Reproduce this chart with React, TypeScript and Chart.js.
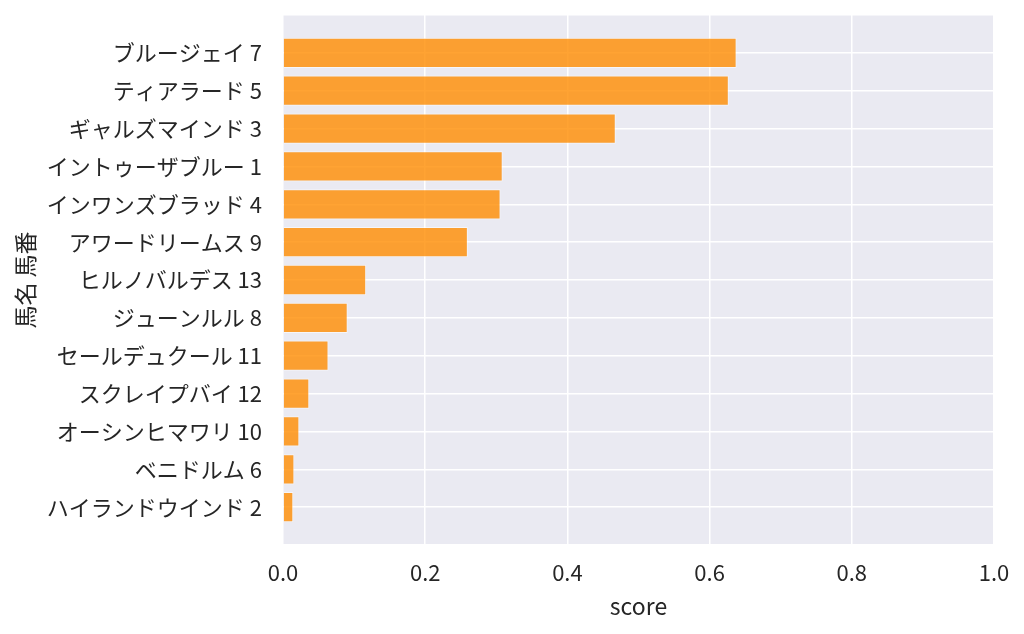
import { useRef, useEffect } from "react";
import Chart from "chart.js/auto";

const horses = [
  "ブルージェイ 7",
  "ティアラード 5",
  "ギャルズマインド 3",
  "イントゥーザブルー 1",
  "インワンズブラッド 4",
  "アワードリームス 9",
  "ヒルノバルデス 13",
  "ジューンルル 8",
  "セールデュクール 11",
  "スクレイプバイ 12",
  "オーシンヒマワリ 10",
  "ベニドルム 6",
  "ハイランドウインド 2",
];

const scores = [
  0.638, 0.627, 0.468, 0.309, 0.306, 0.26, 0.117, 0.091, 0.064, 0.037, 0.023,
  0.016, 0.0145,
];

const xTicks = [0, 0.2, 0.4, 0.6, 0.8, 1.0];

const FONT = "'Noto Sans CJK JP', 'Noto Sans', sans-serif";
const TEXT = "#262626";

const App = () => {
  const chartRef = useRef<HTMLCanvasElement>(null);

  useEffect(() => {
    document.body.style.margin = "0";

    // blank rows top and bottom give the full-row margin seaborn leaves
    const labels = ["", ...horses, ""];
    const values = [null, ...scores, null];

    const myChart = new Chart(chartRef.current!, {
      type: "bar",
      data: {
        labels: labels,
        datasets: [
          {
            data: values,
            backgroundColor: "rgba(255,140,0,0.8)",
            borderColor: "rgba(255,255,255,0.55)",
            borderWidth: 1,
            barPercentage: 0.8,
            categoryPercentage: 1.0,
          },
        ],
      },
      options: {
        indexAxis: "y",
        responsive: false,
        animation: false,
        layout: { padding: { top: 15, right: 30, left: 0, bottom: 0 } },
        plugins: {
          legend: { display: false },
          tooltip: { enabled: false },
        },
        scales: {
          x: {
            type: "linear",
            min: 0,
            max: 1,
            afterBuildTicks: (scale) => {
              scale.ticks = xTicks.map((v) => ({ value: v }));
            },
            afterFit: (scale) => {
              scale.height = 89;
            },
            grid: { color: "#ffffff", lineWidth: 1.5, drawTicks: false },
            border: { display: false },
            ticks: {
              padding: 14,
              color: TEXT,
              font: { family: FONT, size: 22 },
              callback: (v) => Number(v).toFixed(1),
            },
            title: {
              display: true,
              text: "score",
              color: TEXT,
              font: { family: FONT, size: 23 },
              padding: { top: 0, bottom: 14 },
            },
          },
          y: {
            type: "category",
            offset: false,
            afterFit: (scale) => {
              scale.width = 283;
              scale.paddingTop = 0;
              scale.paddingBottom = 0;
            },
            grid: {
              color: "#ffffff",
              lineWidth: 1.5,
              drawTicks: false,
              offset: false,
            },
            border: { display: false },
            ticks: {
              autoSkip: false,
              padding: 21,
              color: TEXT,
              font: { family: FONT, size: 22 },
            },
            title: {
              display: true,
              text: "馬名 馬番",
              color: TEXT,
              font: { family: FONT, size: 23 },
              padding: { top: 11, bottom: 0 },
            },
          },
        },
      },
      plugins: [
        {
          id: "plotBackground",
          beforeDraw: (chart) => {
            const { ctx, chartArea } = chart;
            ctx.save();
            ctx.fillStyle = "#eaeaf2";
            ctx.fillRect(
              chartArea.left,
              chartArea.top,
              chartArea.right - chartArea.left,
              chartArea.bottom - chartArea.top
            );
            ctx.restore();
          },
        },
      ],
    });

    return () => myChart.destroy();
  }, []);

  return (
    <div style={{ width: 1024, height: 634, background: "#ffffff" }}>
      <canvas
        ref={chartRef}
        width={1024}
        height={634}
        style={{ display: "block" }}
      ></canvas>
    </div>
  );
};

export default App;
